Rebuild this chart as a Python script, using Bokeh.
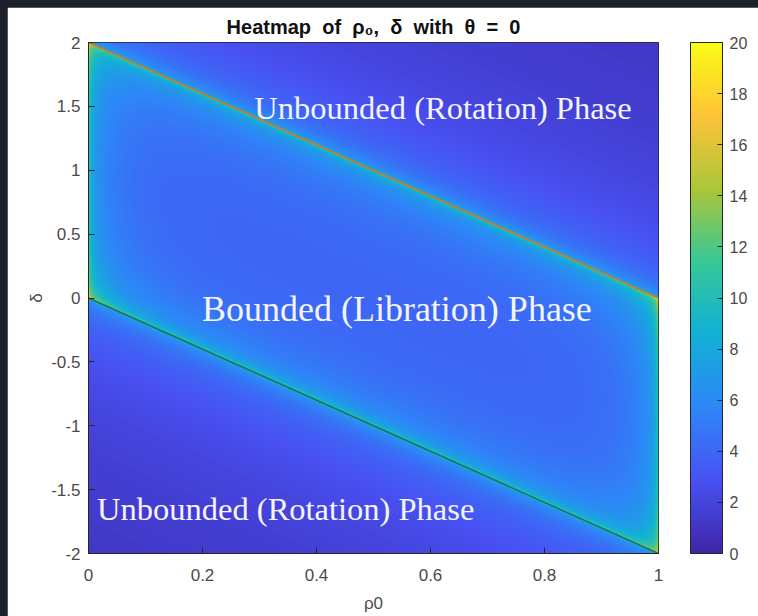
import re
import numpy as np
from bokeh.plotting import figure
from bokeh.layouts import column
from bokeh.models import LinearColorMapper, ColorBar, FixedTicker, Label
from bokeh.embed import file_html
from bokeh.resources import INLINE

# ---------------- data / labels ----------------
rho_ticks = [0, 0.2, 0.4, 0.6, 0.8, 1]
rho_tick_labels = ["0", "0.2", "0.4", "0.6", "0.8", "1"]
delta_ticks = [-2, -1.5, -1, -0.5, 0, 0.5, 1, 1.5, 2]
delta_tick_labels = ["-2", "-1.5", "-1", "-0.5", "0", "0.5", "1", "1.5", "2"]
cbar_ticks = [0, 2, 4, 6, 8, 10, 12, 14, 16, 18, 20]
rho_range = [0.0, 1.0]
delta_range = [-2.0, 2.0]
value_range = [0, 20]

# separatrix lines (upper and lower boundary of the bounded band)
sep_rho = [0.0, 1.0]
sep_delta_upper = [2.0, 0.0]
sep_delta_lower = [0.0, -2.0]

phase_labels = ["Unbounded (Rotation) Phase", "Bounded (Libration) Phase",
                "Unbounded (Rotation) Phase"]
phase_rho = [0.291, 0.199, 0.015]
phase_delta = [1.49, -0.09, -1.65]

# model of the mapped quantity (period-like, diverging on separatrices)
n_rho, n_delta = 570, 511
c_inside = 1.25      # scale inside the bounded band
c_outside = 1.08     # scale in the rotation regions
halo_pow = 1.3       # widening of the glow along the separatrices
edge_width = 0.12    # width of the brightening at rho = 0 and rho = 1
edge_pow = 1.2

# parula colormap anchors
parula_anchors = ["#3e26a8", "#4852f4", "#2d87f7", "#11b1d6",
                  "#37c897", "#abc639", "#fec338", "#f9fb15"]


def ellip_k(m):
    m = np.clip(m, 0.0, 1.0 - 1e-13)
    a = np.ones_like(m)
    b = np.sqrt(1.0 - m)
    for _ in range(30):
        a, b = 0.5 * (a + b), np.sqrt(a * b)
    return np.pi / (2.0 * a)


rho = (np.arange(n_rho) + 0.5) / n_rho * (rho_range[1] - rho_range[0]) + rho_range[0]
delta = (np.arange(n_delta) + 0.5) / n_delta * (delta_range[1] - delta_range[0]) + delta_range[0]
R, D = np.meshgrid(rho, delta)
U = D + 2.0 * R - 1.0
inside = np.abs(U) < 1.0
S = (np.tanh(R / edge_width) * np.tanh((1.0 - R) / edge_width)) ** edge_pow
m_in = 1.0 - (np.clip(1.0 - U ** 2, 0, 1) ** halo_pow) * S
T_in = c_inside * 2.0 * ellip_k(m_in)
au = np.maximum(np.abs(U), 1.0 + 1e-9)
T_out = c_outside * 2.0 * ellip_k((1.0 / au ** 2) ** 0.7) / au
Z = np.where(inside, T_in, T_out)
Z = np.clip(Z, value_range[0], value_range[1])


def hex2rgb(h):
    return np.array([int(h[i:i + 2], 16) for i in (1, 3, 5)], dtype=float)


anch = np.array([hex2rgb(h) for h in parula_anchors])
pos = np.linspace(0, 1, len(anch))
palette = []
for t in np.linspace(0, 1, 256):
    c = [np.interp(t, pos, anch[:, k]) for k in range(3)]
    palette.append("#%02x%02x%02x" % tuple(int(round(v)) for v in c))

mapper = LinearColorMapper(palette=palette, low=value_range[0], high=value_range[1])

# ---------------- figure ----------------
NB = "\u00a0"
title = f"Heatmap {NB}of {NB}ρ₀, {NB}δ {NB}with {NB}θ {NB}= {NB}0"
p = figure(width=751, height=609, x_range=tuple(rho_range), y_range=tuple(delta_range),
           output_backend="svg", toolbar_location=None,
           min_border_left=81, min_border_right=100, min_border_top=35, min_border_bottom=63,
           title=title)
p.background_fill_color = "white"
p.border_fill_color = "white"
p.outline_line_color = "#262626"
p.grid.visible = False

p.title.align = "center"
p.title.text_font = "Liberation Sans"
p.title.text_font_size = "20px"
p.title.text_font_style = "bold"
p.title.text_color = "#111111"

p.image(image=[Z], x=rho_range[0], y=delta_range[0],
        dw=rho_range[1] - rho_range[0], dh=delta_range[1] - delta_range[0],
        color_mapper=mapper)

p.line(sep_rho, sep_delta_upper, line_color="#c07a38", line_width=1.8)
p.line(sep_rho, sep_delta_lower, line_color="#1f6a6c", line_width=1.5)

for txt, x, y, fs in zip(phase_labels, phase_rho, phase_delta, ["32.5px", "36px", "32.5px"]):
    p.add_layout(Label(x=x, y=y, text=txt, text_font="Liberation Serif",
                       text_font_size=fs, text_color="#f4f4ff",
                       text_baseline="alphabetic", text_align="left"))

for ax in (p.xaxis[0], p.yaxis[0]):
    ax.axis_line_color = "#262626"
    ax.major_tick_line_color = "#262626"
    ax.major_tick_in = 6
    ax.major_tick_out = 0
    ax.minor_tick_line_color = None
    ax.major_label_text_font = "Liberation Sans"
    ax.major_label_text_font_size = "17px"
    ax.major_label_text_color = "#4a4a4a"
    ax.axis_label_text_font = "Liberation Sans"
    ax.axis_label_text_font_size = "17px"
    ax.axis_label_text_font_style = "normal"
    ax.axis_label_text_color = "#4a4a4a"

p.xaxis.ticker = FixedTicker(ticks=rho_ticks)
p.yaxis.ticker = FixedTicker(ticks=delta_ticks)
p.xaxis.major_label_overrides = dict(zip(rho_ticks, rho_tick_labels))
p.yaxis.major_label_overrides = dict(zip(delta_ticks, delta_tick_labels))
p.xaxis.axis_label = "ρ0"
p.yaxis.axis_label = "δ"
p.xaxis.major_label_standoff = 15
p.yaxis.major_label_standoff = 8
p.xaxis.axis_label_standoff = 10
p.yaxis.axis_label_standoff = 2

cb = ColorBar(color_mapper=mapper, ticker=FixedTicker(ticks=cbar_ticks),
              width=32, height=511, padding=0, margin=0, location=(32, 0),
              bar_line_color="#262626", major_tick_line_color="#262626",
              major_tick_in=5, major_tick_out=0, minor_tick_line_color=None,
              major_label_text_font="Liberation Sans", major_label_text_font_size="16px",
              major_label_text_color="#4a4a4a", label_standoff=7,
              background_fill_color=None, border_line_color=None)
p.add_layout(cb, "right")

root = column(p, styles={"background-color": "#1b222c", "padding-left": "7px",
                         "padding-top": "7px"})

html = file_html(root, INLINE)
html = re.sub(r"<body([^>]*)>", r'<body\1 style="background-color:#1b222c;">', html, count=1)
open("out.html", "w").write(html)
